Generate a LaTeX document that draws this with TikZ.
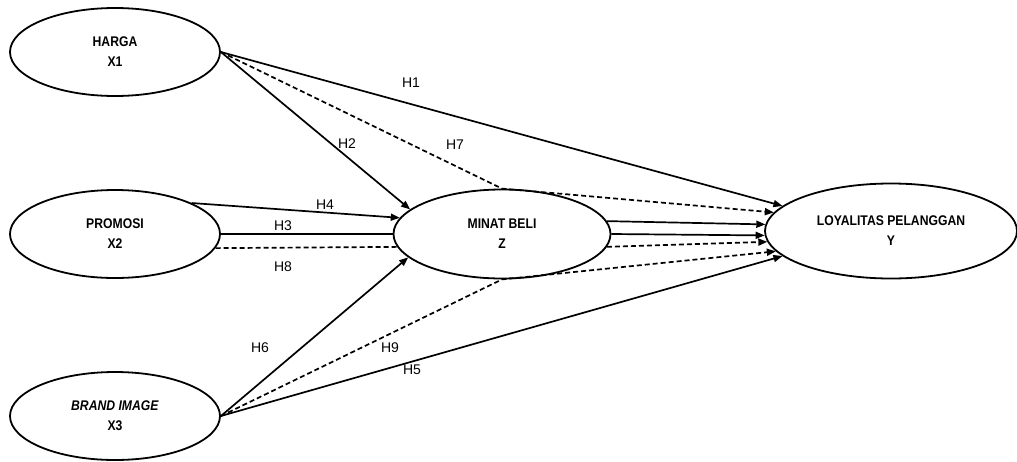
\documentclass[tikz,border=0pt]{standalone}
\usepackage{fontspec}
\setmainfont{Liberation Sans}
\newfontfamily\varfont[FakeStretch=0.87]{Liberation Sans}
\usetikzlibrary{shapes.geometric,arrows.meta}

\begin{document}
\begin{tikzpicture}[x=1pt, y=-1pt, >={Triangle[length=9pt,width=7pt]}, line width=1.7pt]
        % ----------- styles -----------
        \tikzset{
          var/.style={ellipse, draw, line width=1.8pt, inner sep=0pt, align=center,
                      font=\varfont\bfseries\fontsize{14}{20}\selectfont},
          hyp/.style={font=\fontsize{14}{16}\selectfont, inner sep=1pt},
          direct/.style={->},
          viaz/.style={dash pattern=on 5pt off 3pt}
        }
        \useasboundingbox (0,0) rectangle (1017,461);

        % =====================================
        %            variables
        % =====================================
        \node[var, minimum width=210pt, minimum height=88pt] (harga)   at (115,52)  {HARGA\\X1};
        \node[var, minimum width=210pt, minimum height=88pt] (promosi) at (115,234) {PROMOSI\\X2};
        \node[var, minimum width=210pt, minimum height=88pt] (brand)   at (115,416) {\textit{BRAND IMAGE}\\X3};
        \node[var, minimum width=217pt, minimum height=89pt] (minat)   at (502,234) {MINAT BELI\\Z};
        \node[var, minimum width=252pt, minimum height=95pt] (loyal)   at (891,231) {LOYALITAS PELANGGAN\\Y};

        % X -> Y
        \draw[direct] (harga.east) -- (loyal.167);
        \draw[direct] (brand.east) -- (loyal.193);

        % X -> Z
        \draw[direct] (harga.east) -- (minat.165);
        \draw[direct] (promosi.22) -- (minat.171);
        \draw (promosi.east) -- (minat.west);
        \draw[viaz] (promosi.352) -- (minat.187);
        \draw[direct] (brand.east) -- (minat.194);

        % Z -> Y
        \draw[direct] (minat.7) -- (loyal.177);
        \draw[direct] (minat.east) -- (loyal.182);
        \draw[direct, viaz] (minat.353) -- (loyal.185);

        % X -> Z -> Y (dashed)
        \draw[direct, viaz] (harga.east) -- (minat.north) -- (loyal.171);
        \draw[direct, viaz] (brand.east) -- (minat.south) -- (loyal.190);

        % hypothesis labels
        \node[hyp] (h1) at (411,83)  {H1};
        \node[hyp] (h2) at (347,144) {H2};
        \node[hyp] (h3) at (283,226) {H3};
        \node[hyp] (h4) at (325,205) {H4};
        \node[hyp] (h5) at (412,370) {H5};
        \node[hyp] (h6) at (260,348) {H6};
        \node[hyp] (h7) at (455,145) {H7};
        \node[hyp] (h8) at (283,267) {H8};
        \node[hyp] (h9) at (390,348) {H9};
\end{tikzpicture}
\end{document}
